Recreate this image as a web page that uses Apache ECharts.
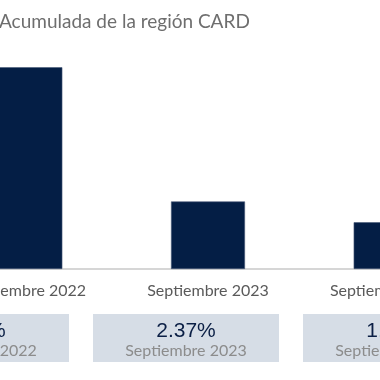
<!DOCTYPE html>
<html>
<head>
<meta charset="utf-8">
<script src="https://cdn.jsdelivr.net/npm/echarts@6/dist/echarts.min.js"></script>
<style>html,body{margin:0;padding:0;background:#fff;}#c{width:380px;height:380px;}</style>
</head>
<body>
<div id="c"></div>
<script>
const titleText = "Acumulada de la región CARD";
const categories = ["Septiembre 2022", "Septiembre 2023", "Septiembre 2024"];
const values = [7.08, 2.37, 1.64];
const boxLabels = ["7.08%", "2.37%", "1.64%"];

const chart = echarts.init(document.getElementById('c'), null, {renderer: 'canvas'});
const FONT = 'Lato';

const boxGraphics = [];
categories.forEach((cat, i) => {
  const x = -117 + 210 * i;
  boxGraphics.push({
    type: 'group', left: x, top: 314,
    children: [
      {type: 'rect', shape: {x: 0, y: 0, width: 186, height: 48}, style: {fill: '#d6dde6'}},
      {type: 'text', x: 93, y: 17, style: {text: boxLabels[i], fill: '#0b1f45', font: '21px "Liberation Sans"', align: 'center', verticalAlign: 'middle'}},
      {type: 'text', x: 93, y: 37, style: {text: cat, fill: '#8c8c8c', font: '16px ' + FONT, align: 'center', verticalAlign: 'middle'}}
    ]
  });
});

chart.setOption({
  animation: false,
  title: {text: titleText, left: -1, top: 12, padding: 0, textStyle: {fontFamily: FONT, fontWeight: 'normal', fontSize: 19, color: '#6e6e6e'}},
  grid: {left: -66, width: 548, top: 41, bottom: 111, outerBoundsMode: 'none', containLabel: false},
  xAxis: {
    type: 'category', data: categories,
    axisLine: {lineStyle: {color: '#c8c8c8', width: 1.5}},
    axisTick: {show: false},
    axisLabel: {color: '#5a5a5a', fontFamily: FONT, fontSize: 16, margin: 14, interval: 0, hideOverlap: false}
  },
  yAxis: {type: 'value', min: 0, max: 8, show: false, splitLine: {show: false}},
  series: [{
    type: 'bar', data: values, barWidth: 74,
    itemStyle: {color: '#041e45', borderColor: '#4a5a78', borderWidth: 0.6}
  }],
  graphic: boxGraphics
});
</script>
</body>
</html>
